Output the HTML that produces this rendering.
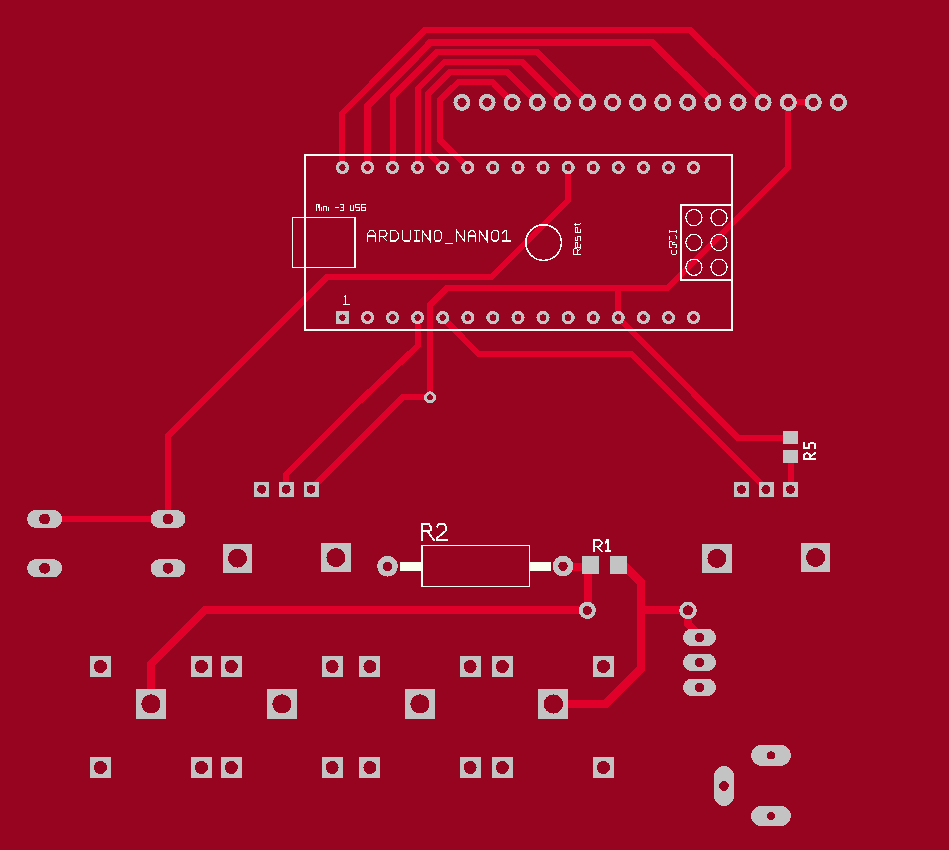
<!DOCTYPE html>
<html><head><meta charset="utf-8"><style>html,body{margin:0;padding:0;background:#97041F;width:949px;height:850px;overflow:hidden}</style></head>
<body>
<svg width="949" height="850" viewBox="0 0 949 850" style="display:block" shape-rendering="crispEdges">
<rect width="949" height="850" fill="#97041F"/>
<path d="M342.40,167.50 L342.40,113.00 L425.00,30.00 L690.00,30.00 L763.11,102.40" fill="none" stroke="#E0002A" stroke-width="6" stroke-linejoin="miter" stroke-linecap="butt"/>
<path d="M367.48,167.50 L367.48,106.00 L430.50,42.45 L652.00,42.45 L712.92,102.40" fill="none" stroke="#E0002A" stroke-width="7" stroke-linejoin="miter" stroke-linecap="butt"/>
<path d="M392.56,167.50 L392.56,96.50 L437.00,52.00 L537.00,52.00 L587.43,102.40" fill="none" stroke="#E0002A" stroke-width="6" stroke-linejoin="miter" stroke-linecap="butt"/>
<path d="M417.64,167.50 L417.64,89.00 L444.50,62.00 L522.00,62.00 L562.34,102.40" fill="none" stroke="#E0002A" stroke-width="6" stroke-linejoin="miter" stroke-linecap="butt"/>
<path d="M442.72,167.50 L428.00,152.60 L428.00,94.00 L450.00,72.00 L507.00,72.00 L537.24,102.40" fill="none" stroke="#E0002A" stroke-width="6" stroke-linejoin="miter" stroke-linecap="butt"/>
<path d="M467.80,167.50 L440.20,140.00 L440.20,100.00 L458.00,82.30 L492.60,82.30 L512.14,102.40" fill="none" stroke="#E0002A" stroke-width="6" stroke-linejoin="miter" stroke-linecap="butt"/>
<path d="M568.12,167.50 L568.12,200.50 L491.60,277.00 L327.00,277.00 L168.00,436.00 L168.00,519.00 L44.60,519.00" fill="none" stroke="#E0002A" stroke-width="6" stroke-linejoin="miter" stroke-linecap="butt"/>
<path d="M813.31,102.40 L788.21,102.40 L788.21,167.50 L667.50,288.00 L447.00,288.00 L430.00,305.00 L430.00,397.00" fill="none" stroke="#E0002A" stroke-width="6" stroke-linejoin="miter" stroke-linecap="butt"/>
<path d="M618.28,288.00 L618.28,317.60" fill="none" stroke="#E0002A" stroke-width="6" stroke-linejoin="miter" stroke-linecap="butt"/>
<path d="M430.00,397.00 L403.00,397.00 L315.00,485.00 L311.00,489.00" fill="none" stroke="#E0002A" stroke-width="6" stroke-linejoin="miter" stroke-linecap="butt"/>
<path d="M417.64,317.60 L417.64,346.00 L354.00,406.50 L286.10,474.40 L286.10,489.20" fill="none" stroke="#E0002A" stroke-width="6" stroke-linejoin="miter" stroke-linecap="butt"/>
<path d="M442.72,317.60 L478.00,353.50 L631.00,353.50 L765.00,487.50" fill="none" stroke="#E0002A" stroke-width="6" stroke-linejoin="miter" stroke-linecap="butt"/>
<path d="M618.28,317.60 L738.00,438.00 L790.50,438.00" fill="none" stroke="#E0002A" stroke-width="6" stroke-linejoin="miter" stroke-linecap="butt"/>
<path d="M790.50,456.50 L790.50,489.50" fill="none" stroke="#E0002A" stroke-width="6" stroke-linejoin="miter" stroke-linecap="butt"/>
<path d="M151.00,704.00 L151.00,664.00 L205.00,610.00 L587.50,610.00" fill="none" stroke="#E0002A" stroke-width="8" stroke-linejoin="miter" stroke-linecap="butt"/>
<path d="M588.00,565.00 L588.00,610.00" fill="none" stroke="#E0002A" stroke-width="8" stroke-linejoin="miter" stroke-linecap="butt"/>
<path d="M563.00,567.00 L590.00,567.00" fill="none" stroke="#E0002A" stroke-width="8" stroke-linejoin="miter" stroke-linecap="butt"/>
<path d="M618.50,566.50 L625.00,566.50 L640.50,582.00 L640.50,669.00 L605.50,704.00 L553.50,704.20" fill="none" stroke="#E0002A" stroke-width="8" stroke-linejoin="miter" stroke-linecap="butt"/>
<path d="M640.50,610.40 L688.00,610.40" fill="none" stroke="#E0002A" stroke-width="8" stroke-linejoin="miter" stroke-linecap="butt"/>
<path d="M688.00,610.40 L688.00,624.00 L699.50,635.50" fill="none" stroke="#E0002A" stroke-width="8" stroke-linejoin="miter" stroke-linecap="butt"/>
<circle cx="461.95" cy="102.40" r="8.55" fill="#C3C3C3"/><circle cx="461.95" cy="102.40" r="4.60" fill="#97041F"/>
<circle cx="487.05" cy="102.40" r="8.55" fill="#C3C3C3"/><circle cx="487.05" cy="102.40" r="4.60" fill="#97041F"/>
<circle cx="512.14" cy="102.40" r="8.55" fill="#C3C3C3"/><circle cx="512.14" cy="102.40" r="4.60" fill="#97041F"/>
<circle cx="537.24" cy="102.40" r="8.55" fill="#C3C3C3"/><circle cx="537.24" cy="102.40" r="4.60" fill="#97041F"/>
<circle cx="562.34" cy="102.40" r="8.55" fill="#C3C3C3"/><circle cx="562.34" cy="102.40" r="4.60" fill="#97041F"/>
<circle cx="587.43" cy="102.40" r="8.55" fill="#C3C3C3"/><circle cx="587.43" cy="102.40" r="4.60" fill="#97041F"/>
<circle cx="612.53" cy="102.40" r="8.55" fill="#C3C3C3"/><circle cx="612.53" cy="102.40" r="4.60" fill="#97041F"/>
<circle cx="637.63" cy="102.40" r="8.55" fill="#C3C3C3"/><circle cx="637.63" cy="102.40" r="4.60" fill="#97041F"/>
<circle cx="662.73" cy="102.40" r="8.55" fill="#C3C3C3"/><circle cx="662.73" cy="102.40" r="4.60" fill="#97041F"/>
<circle cx="687.82" cy="102.40" r="8.55" fill="#C3C3C3"/><circle cx="687.82" cy="102.40" r="4.60" fill="#97041F"/>
<circle cx="712.92" cy="102.40" r="8.55" fill="#C3C3C3"/><circle cx="712.92" cy="102.40" r="4.60" fill="#97041F"/>
<circle cx="738.02" cy="102.40" r="8.55" fill="#C3C3C3"/><circle cx="738.02" cy="102.40" r="4.60" fill="#97041F"/>
<circle cx="763.11" cy="102.40" r="8.55" fill="#C3C3C3"/><circle cx="763.11" cy="102.40" r="4.60" fill="#97041F"/>
<circle cx="788.21" cy="102.40" r="8.55" fill="#C3C3C3"/><circle cx="788.21" cy="102.40" r="4.60" fill="#97041F"/>
<circle cx="813.31" cy="102.40" r="8.55" fill="#C3C3C3"/><circle cx="813.31" cy="102.40" r="4.60" fill="#97041F"/>
<circle cx="838.40" cy="102.40" r="8.55" fill="#C3C3C3"/><circle cx="838.40" cy="102.40" r="4.60" fill="#97041F"/>
<circle cx="342.40" cy="167.50" r="6.60" fill="#C3C3C3"/><circle cx="342.40" cy="167.50" r="3.25" fill="#97041F"/>
<circle cx="367.48" cy="167.50" r="6.60" fill="#C3C3C3"/><circle cx="367.48" cy="167.50" r="3.25" fill="#97041F"/>
<circle cx="392.56" cy="167.50" r="6.60" fill="#C3C3C3"/><circle cx="392.56" cy="167.50" r="3.25" fill="#97041F"/>
<circle cx="417.64" cy="167.50" r="6.60" fill="#C3C3C3"/><circle cx="417.64" cy="167.50" r="3.25" fill="#97041F"/>
<circle cx="442.72" cy="167.50" r="6.60" fill="#C3C3C3"/><circle cx="442.72" cy="167.50" r="3.25" fill="#97041F"/>
<circle cx="467.80" cy="167.50" r="6.60" fill="#C3C3C3"/><circle cx="467.80" cy="167.50" r="3.25" fill="#97041F"/>
<circle cx="492.88" cy="167.50" r="6.60" fill="#C3C3C3"/><circle cx="492.88" cy="167.50" r="3.25" fill="#97041F"/>
<circle cx="517.96" cy="167.50" r="6.60" fill="#C3C3C3"/><circle cx="517.96" cy="167.50" r="3.25" fill="#97041F"/>
<circle cx="543.04" cy="167.50" r="6.60" fill="#C3C3C3"/><circle cx="543.04" cy="167.50" r="3.25" fill="#97041F"/>
<circle cx="568.12" cy="167.50" r="6.60" fill="#C3C3C3"/><circle cx="568.12" cy="167.50" r="3.25" fill="#97041F"/>
<circle cx="593.20" cy="167.50" r="6.60" fill="#C3C3C3"/><circle cx="593.20" cy="167.50" r="3.25" fill="#97041F"/>
<circle cx="618.28" cy="167.50" r="6.60" fill="#C3C3C3"/><circle cx="618.28" cy="167.50" r="3.25" fill="#97041F"/>
<circle cx="643.36" cy="167.50" r="6.60" fill="#C3C3C3"/><circle cx="643.36" cy="167.50" r="3.25" fill="#97041F"/>
<circle cx="668.44" cy="167.50" r="6.60" fill="#C3C3C3"/><circle cx="668.44" cy="167.50" r="3.25" fill="#97041F"/>
<circle cx="693.52" cy="167.50" r="6.60" fill="#C3C3C3"/><circle cx="693.52" cy="167.50" r="3.25" fill="#97041F"/>
<rect x="335.90" y="311.10" width="13.00" height="13.00" fill="#C3C3C3"/><circle cx="342.40" cy="317.60" r="3.20" fill="#97041F"/>
<circle cx="367.48" cy="317.60" r="6.60" fill="#C3C3C3"/><circle cx="367.48" cy="317.60" r="3.25" fill="#97041F"/>
<circle cx="392.56" cy="317.60" r="6.60" fill="#C3C3C3"/><circle cx="392.56" cy="317.60" r="3.25" fill="#97041F"/>
<circle cx="417.64" cy="317.60" r="6.60" fill="#C3C3C3"/><circle cx="417.64" cy="317.60" r="3.25" fill="#97041F"/>
<circle cx="442.72" cy="317.60" r="6.60" fill="#C3C3C3"/><circle cx="442.72" cy="317.60" r="3.25" fill="#97041F"/>
<circle cx="467.80" cy="317.60" r="6.60" fill="#C3C3C3"/><circle cx="467.80" cy="317.60" r="3.25" fill="#97041F"/>
<circle cx="492.88" cy="317.60" r="6.60" fill="#C3C3C3"/><circle cx="492.88" cy="317.60" r="3.25" fill="#97041F"/>
<circle cx="517.96" cy="317.60" r="6.60" fill="#C3C3C3"/><circle cx="517.96" cy="317.60" r="3.25" fill="#97041F"/>
<circle cx="543.04" cy="317.60" r="6.60" fill="#C3C3C3"/><circle cx="543.04" cy="317.60" r="3.25" fill="#97041F"/>
<circle cx="568.12" cy="317.60" r="6.60" fill="#C3C3C3"/><circle cx="568.12" cy="317.60" r="3.25" fill="#97041F"/>
<circle cx="593.20" cy="317.60" r="6.60" fill="#C3C3C3"/><circle cx="593.20" cy="317.60" r="3.25" fill="#97041F"/>
<circle cx="618.28" cy="317.60" r="6.60" fill="#C3C3C3"/><circle cx="618.28" cy="317.60" r="3.25" fill="#97041F"/>
<circle cx="643.36" cy="317.60" r="6.60" fill="#C3C3C3"/><circle cx="643.36" cy="317.60" r="3.25" fill="#97041F"/>
<circle cx="668.44" cy="317.60" r="6.60" fill="#C3C3C3"/><circle cx="668.44" cy="317.60" r="3.25" fill="#97041F"/>
<circle cx="693.52" cy="317.60" r="6.60" fill="#C3C3C3"/><circle cx="693.52" cy="317.60" r="3.25" fill="#97041F"/>
<circle cx="430.00" cy="397.40" r="6.00" fill="#C3C3C3"/><circle cx="430.00" cy="397.40" r="3.00" fill="#97041F"/>
<circle cx="587.30" cy="610.40" r="8.60" fill="#C3C3C3"/><circle cx="587.30" cy="610.40" r="4.50" fill="#97041F"/>
<circle cx="688.00" cy="610.40" r="8.80" fill="#C3C3C3"/><circle cx="688.00" cy="610.40" r="5.00" fill="#97041F"/>
<circle cx="387.50" cy="566.30" r="10.40" fill="#C3C3C3"/><circle cx="387.50" cy="566.30" r="4.70" fill="#97041F"/>
<circle cx="563.00" cy="566.20" r="10.40" fill="#C3C3C3"/><circle cx="563.00" cy="566.20" r="4.70" fill="#97041F"/>
<rect x="254.20" y="481.70" width="15.00" height="15.00" fill="#C3C3C3"/><circle cx="261.70" cy="489.20" r="4.50" fill="#97041F"/>
<rect x="278.60" y="481.70" width="15.00" height="15.00" fill="#C3C3C3"/><circle cx="286.10" cy="489.20" r="4.50" fill="#97041F"/>
<rect x="303.50" y="481.70" width="15.00" height="15.00" fill="#C3C3C3"/><circle cx="311.00" cy="489.20" r="4.50" fill="#97041F"/>
<rect x="734.00" y="482.00" width="15.00" height="15.00" fill="#C3C3C3"/><circle cx="741.50" cy="489.50" r="4.50" fill="#97041F"/>
<rect x="758.50" y="482.00" width="15.00" height="15.00" fill="#C3C3C3"/><circle cx="766.00" cy="489.50" r="4.50" fill="#97041F"/>
<rect x="783.00" y="482.00" width="15.00" height="15.00" fill="#C3C3C3"/><circle cx="790.50" cy="489.50" r="4.50" fill="#97041F"/>
<rect x="783.00" y="431.00" width="15.00" height="13.00" fill="#C3C3C3"/>
<rect x="783.00" y="450.00" width="15.00" height="13.00" fill="#C3C3C3"/>
<path d="M36.10,510.00h17.00a9.00,9.00 0 0,1 0,18.00h-17.00a9.00,9.00 0 0,1 0,-18.00z" fill="#C3C3C3"/><circle cx="44.60" cy="519.00" r="5.50" fill="#97041F"/>
<path d="M159.50,510.00h17.00a9.00,9.00 0 0,1 0,18.00h-17.00a9.00,9.00 0 0,1 0,-18.00z" fill="#C3C3C3"/><circle cx="168.00" cy="519.00" r="5.50" fill="#97041F"/>
<path d="M36.10,559.20h17.00a9.00,9.00 0 0,1 0,18.00h-17.00a9.00,9.00 0 0,1 0,-18.00z" fill="#C3C3C3"/><circle cx="44.60" cy="568.20" r="5.50" fill="#97041F"/>
<path d="M159.50,559.20h17.00a9.00,9.00 0 0,1 0,18.00h-17.00a9.00,9.00 0 0,1 0,-18.00z" fill="#C3C3C3"/><circle cx="168.00" cy="568.20" r="5.50" fill="#97041F"/>
<rect x="223.00" y="543.70" width="29.00" height="29.00" fill="#C3C3C3"/><circle cx="237.50" cy="558.20" r="9.50" fill="#97041F"/>
<rect x="320.90" y="543.10" width="30.00" height="29.00" fill="#C3C3C3"/><circle cx="335.90" cy="557.60" r="9.50" fill="#97041F"/>
<rect x="701.90" y="543.90" width="30.00" height="29.00" fill="#C3C3C3"/><circle cx="716.90" cy="558.40" r="9.50" fill="#97041F"/>
<rect x="801.10" y="543.00" width="29.00" height="29.00" fill="#C3C3C3"/><circle cx="815.60" cy="557.50" r="9.50" fill="#97041F"/>
<rect x="581.50" y="556.30" width="17.00" height="18.00" fill="#C3C3C3"/>
<rect x="610.00" y="556.30" width="17.00" height="18.00" fill="#C3C3C3"/>
<rect x="90.00" y="656.00" width="21.00" height="21.00" fill="#C3C3C3"/><circle cx="100.50" cy="666.50" r="6.50" fill="#97041F"/>
<rect x="191.00" y="656.00" width="21.00" height="21.00" fill="#C3C3C3"/><circle cx="201.50" cy="666.50" r="6.50" fill="#97041F"/>
<rect x="220.90" y="656.00" width="21.00" height="21.00" fill="#C3C3C3"/><circle cx="231.40" cy="666.50" r="6.50" fill="#97041F"/>
<rect x="321.70" y="656.00" width="21.00" height="21.00" fill="#C3C3C3"/><circle cx="332.20" cy="666.50" r="6.50" fill="#97041F"/>
<rect x="359.40" y="656.00" width="21.00" height="21.00" fill="#C3C3C3"/><circle cx="369.90" cy="666.50" r="6.50" fill="#97041F"/>
<rect x="459.70" y="656.00" width="21.00" height="21.00" fill="#C3C3C3"/><circle cx="470.20" cy="666.50" r="6.50" fill="#97041F"/>
<rect x="491.90" y="656.00" width="21.00" height="21.00" fill="#C3C3C3"/><circle cx="502.40" cy="666.50" r="6.50" fill="#97041F"/>
<rect x="593.00" y="656.00" width="21.00" height="21.00" fill="#C3C3C3"/><circle cx="603.50" cy="666.50" r="6.50" fill="#97041F"/>
<rect x="90.00" y="757.00" width="21.00" height="21.00" fill="#C3C3C3"/><circle cx="100.50" cy="767.50" r="6.50" fill="#97041F"/>
<rect x="191.00" y="757.00" width="21.00" height="21.00" fill="#C3C3C3"/><circle cx="201.50" cy="767.50" r="6.50" fill="#97041F"/>
<rect x="220.90" y="757.00" width="21.00" height="21.00" fill="#C3C3C3"/><circle cx="231.40" cy="767.50" r="6.50" fill="#97041F"/>
<rect x="321.70" y="757.00" width="21.00" height="21.00" fill="#C3C3C3"/><circle cx="332.20" cy="767.50" r="6.50" fill="#97041F"/>
<rect x="359.40" y="757.00" width="21.00" height="21.00" fill="#C3C3C3"/><circle cx="369.90" cy="767.50" r="6.50" fill="#97041F"/>
<rect x="459.70" y="757.00" width="21.00" height="21.00" fill="#C3C3C3"/><circle cx="470.20" cy="767.50" r="6.50" fill="#97041F"/>
<rect x="491.90" y="757.00" width="21.00" height="21.00" fill="#C3C3C3"/><circle cx="502.40" cy="767.50" r="6.50" fill="#97041F"/>
<rect x="593.00" y="757.00" width="21.00" height="21.00" fill="#C3C3C3"/><circle cx="603.50" cy="767.50" r="6.50" fill="#97041F"/>
<rect x="136.00" y="689.00" width="30.00" height="30.00" fill="#C3C3C3"/><circle cx="151.00" cy="704.00" r="9.60" fill="#97041F"/>
<rect x="267.00" y="689.00" width="30.00" height="30.00" fill="#C3C3C3"/><circle cx="282.00" cy="704.00" r="9.60" fill="#97041F"/>
<rect x="405.00" y="689.00" width="30.00" height="30.00" fill="#C3C3C3"/><circle cx="420.00" cy="704.00" r="9.60" fill="#97041F"/>
<rect x="538.40" y="689.00" width="30.00" height="30.00" fill="#C3C3C3"/><circle cx="553.40" cy="704.00" r="9.60" fill="#97041F"/>
<path d="M691.50,628.90h16.00a8.50,8.50 0 0,1 0,17.00h-16.00a8.50,8.50 0 0,1 0,-17.00z" fill="#C3C3C3"/><circle cx="699.50" cy="637.40" r="4.70" fill="#97041F"/>
<path d="M691.50,653.90h16.00a8.50,8.50 0 0,1 0,17.00h-16.00a8.50,8.50 0 0,1 0,-17.00z" fill="#C3C3C3"/><circle cx="699.50" cy="662.40" r="4.70" fill="#97041F"/>
<path d="M691.50,678.90h16.00a8.50,8.50 0 0,1 0,17.00h-16.00a8.50,8.50 0 0,1 0,-17.00z" fill="#C3C3C3"/><circle cx="699.50" cy="687.40" r="4.70" fill="#97041F"/>
<path d="M761.50,744.90h19.00a10.50,10.50 0 0,1 0,21.00h-19.00a10.50,10.50 0 0,1 0,-21.00z" fill="#C3C3C3"/><circle cx="771.00" cy="755.40" r="4.00" fill="#97041F"/>
<path d="M714.00,776.00a10.00,10.00 0 0,1 20.00,0v20.00a10.00,10.00 0 0,1 -20.00,0z" fill="#C3C3C3"/><circle cx="724.00" cy="786.00" r="4.80" fill="#97041F"/>
<path d="M761.00,806.00h20.00a10.00,10.00 0 0,1 0,20.00h-20.00a10.00,10.00 0 0,1 0,-20.00z" fill="#C3C3C3"/><circle cx="771.00" cy="816.00" r="4.00" fill="#97041F"/>
<g fill="none" stroke="#FFFFF6">
<rect x="305" y="155.2" width="426.5" height="174.5" stroke-width="2"/>
<rect x="292.5" y="217.5" width="62.5" height="50" stroke-width="1.2"/>
<circle cx="543.6" cy="242.6" r="17.8" stroke-width="1.5"/>
<rect x="681" y="205" width="50.5" height="75" stroke-width="2"/>
<circle cx="693.9" cy="217.6" r="8.1" stroke-width="1.2"/>
<circle cx="719" cy="217.6" r="8.1" stroke-width="1.2"/>
<circle cx="693.9" cy="242.5" r="8.1" stroke-width="1.2"/>
<circle cx="719" cy="242.5" r="8.1" stroke-width="1.2"/>
<circle cx="693.9" cy="267.3" r="8.1" stroke-width="1.2"/>
<circle cx="719" cy="267.3" r="8.1" stroke-width="1.2"/>
<rect x="422" y="545.6" width="107.5" height="40.8" stroke-width="1.6"/>
</g>
<rect x="400" y="562" width="22" height="9" fill="#FCFEF0"/>
<rect x="529.5" y="562" width="21.5" height="9" fill="#FCFEF0"/>
<g fill="none" stroke="#FFFFF6" stroke-width="1.2" stroke-linejoin="miter" stroke-linecap="square" shape-rendering="crispEdges" >
<path transform="translate(367.60,230.60) scale(0.8667,0.9811)" vector-effect="non-scaling-stroke" d="M0,10.6V3L3,0H6L9,3V10.6M0,5.6H9"/>
<path transform="translate(379.40,230.60) scale(0.8444,0.9811)" vector-effect="non-scaling-stroke" d="M0,10.6V0H6.5L9,2.5V3.5L6.5,6H0M3.5,6L9,10.6"/>
<path transform="translate(390.60,230.60) scale(0.8444,0.9811)" vector-effect="non-scaling-stroke" d="M0,0H6L9,3V7.6L6,10.6H0Z"/>
<path transform="translate(402.60,230.60) scale(0.8889,0.9811)" vector-effect="non-scaling-stroke" d="M0,0V9L1.6,10.6H7.4L9,9V0"/>
<path transform="translate(414.20,230.60) scale(0.5778,0.9811)" vector-effect="non-scaling-stroke" d="M0,0H9M4.5,0V10.6M0,10.6H9"/>
<path transform="translate(422.20,230.60) scale(0.8556,0.9811)" vector-effect="non-scaling-stroke" d="M0,10.6V0L9,10.6V0"/>
<path transform="translate(434.30,230.60) scale(0.7556,0.9811)" vector-effect="non-scaling-stroke" d="M2,0H7L9,2V8.6L7,10.6H2L0,8.6V2Z"/>
<path transform="translate(445.60,230.60) scale(0.7556,0.9811)" vector-effect="non-scaling-stroke" d="M0,13.2H9"/>
<path transform="translate(456.60,230.60) scale(0.8444,0.9811)" vector-effect="non-scaling-stroke" d="M0,10.6V0L9,10.6V0"/>
<path transform="translate(468.20,230.60) scale(0.8000,0.9811)" vector-effect="non-scaling-stroke" d="M0,10.6V3L3,0H6L9,3V10.6M0,5.6H9"/>
<path transform="translate(479.40,230.60) scale(0.8444,0.9811)" vector-effect="non-scaling-stroke" d="M0,10.6V0L9,10.6V0"/>
<path transform="translate(491.80,230.60) scale(0.7556,0.9811)" vector-effect="non-scaling-stroke" d="M2,0H7L9,2V8.6L7,10.6H2L0,8.6V2Z"/>
<path transform="translate(502.30,230.60) scale(0.8889,0.9811)" vector-effect="non-scaling-stroke" d="M0,2.6L3,0H4.8V10.6M0,10.6H9"/>
</g>
<g fill="none" stroke="#FFFFF6" stroke-width="1.9" stroke-linejoin="miter" stroke-linecap="square" shape-rendering="crispEdges" >
<path transform="translate(421.85,523.85) scale(0.9667,1.5283)" vector-effect="non-scaling-stroke" d="M0,10.6V0H7.3L9,1.8V4.1L7.3,4.9H0M6,4.9L12.4,10.6"/>
<path transform="translate(437.05,523.85) scale(1.0000,1.5283)" vector-effect="non-scaling-stroke" d="M0,1.8L1.6,0H7.2L9,1.8V4.4L0,9.3V10.6H9.6"/>
</g>
<g fill="none" stroke="#FFFFF6" stroke-width="1.7" stroke-linejoin="miter" stroke-linecap="square" shape-rendering="crispEdges" >
<path transform="translate(593.85,539.85) scale(0.8889,1.0849)" vector-effect="non-scaling-stroke" d="M0,10.6V0H6.5L9,2.5V3.5L6.5,6H0M3.5,6L9,10.6"/>
<path transform="translate(605.65,539.85) scale(0.5222,1.0849)" vector-effect="non-scaling-stroke" d="M0,2.6L3,0H4.8V10.6M0,10.6H9"/>
</g>
<g fill="none" stroke="#FFFFF6" stroke-width="1.8" stroke-linejoin="miter" stroke-linecap="square" shape-rendering="crispEdges" transform="translate(802.9,460) rotate(-90)">
<path transform="translate(0.90,0.90) scale(0.6667,1.0660)" vector-effect="non-scaling-stroke" d="M0,10.6V0H6.5L9,2.5V3.5L6.5,6H0M3.5,6L9,10.6"/>
<path transform="translate(12.00,0.90) scale(0.5889,1.0660)" vector-effect="non-scaling-stroke" d="M9,0H0V4.6H6.6L9,6.8V8.4L6.8,10.6H0"/>
</g>
<path d="M343.5,297.5L345.5,295.5V304.5M343,304.5H350" fill="none" stroke="#FFFFF6" stroke-width="1.1"/>
<path d="M316.5,210.5V204.5H319.5V210.5M318,204.5V207.5 M321.5,206.5V210.5M321.5,204.5V205 M323.5,210.5V206.5H326.5V210.5 M328.5,206.5V210.5M328.5,204.5V205 M334.5,207.5H338.5 M339.5,204.5H343.5V210.5H339.5M340.5,207.5H343.5 M350.5,204.5V210.5H353.5V204.5 M359.5,204.5H355.5V207.5H359.5V210.5H355.5 M365.5,204.5H361.5V210.5H365.5V207.5H361.5" fill="none" stroke="#FFFFF6" stroke-width="1" shape-rendering="crispEdges"/>
<path d="M580.5,254.5H573.5V249.5L574.5,248.5H576.5L577.5,249.5V254.5M577.5,251.5L580.5,248.5 M577.5,242.5H575.5V247.5H580.5V243.5M577.5,242.5V247.5 M575.5,236.5V240.5H577.5V236.5H580.5V240.5 M577.5,227.5H575.5V232.5H580.5V228.5M577.5,227.5V232.5 M573.5,224.5H579.5L580.5,223.5V222.5M575.5,222.5V225.5" fill="none" stroke="#FFFFF6" stroke-width="1" shape-rendering="crispEdges"/>
<path d="M669.5,229.5V232.5M676.5,229.5V232.5M669.5,231.5H676.5 M669.5,235.5V239.5M675.5,235.5L676.5,236.5V238.5L675.5,239.5 M671.5,241.5H669.5V247.5H671.5M674.5,247.5H676.5V244.5H672.5V242.5H674.5 M671.5,249.5V253.5L672.5,254.5H675.5L676.5,253.5V249.5" fill="none" stroke="#FFFFF6" stroke-width="1" shape-rendering="crispEdges"/>
</svg>
</body></html>
